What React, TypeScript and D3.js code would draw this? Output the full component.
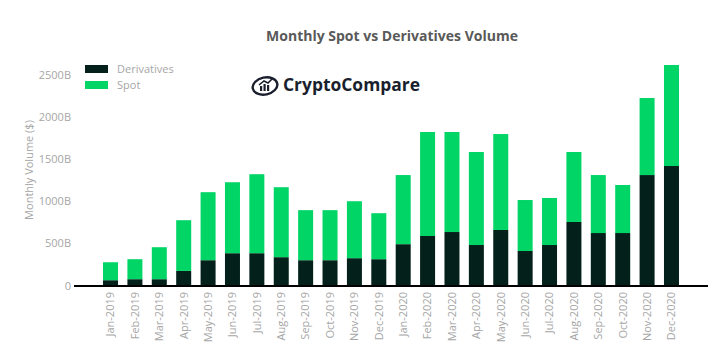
import React from "react";
import * as d3 from "d3";

const months = [
  "Jan-2019","Feb-2019","Mar-2019","Apr-2019","May-2019","Jun-2019","Jul-2019","Aug-2019","Sep-2019","Oct-2019","Nov-2019","Dec-2019",
  "Jan-2020","Feb-2020","Mar-2020","Apr-2020","May-2020","Jun-2020","Jul-2020","Aug-2020","Sep-2020","Oct-2020","Nov-2020","Dec-2020",
];
const derivatives = [65, 77, 77, 175, 302, 385, 385, 338, 302, 302, 326, 314, 492, 589, 636, 482, 660, 411, 482, 755, 624, 624, 1311, 1418];
const spot = [213, 237, 379, 601, 806, 841, 936, 829, 593, 593, 675, 545, 819, 1232, 1185, 1102, 1137, 604, 557, 829, 687, 569, 913, 1197];
const yTicks = [0, 500, 1000, 1500, 2000, 2500];

const W = 725, H = 351;
const GREEN = "#00d566";
const DARK = "#03201b";
const GRAY = "#a6a6a6";

export default function App() {
  const x = d3.scaleBand<string>().domain(months).range([74, 708]).paddingInner(0.385).paddingOuter(1.19);
  const y = d3.scaleLinear().domain([0, 2500]).range([285.7, 74.7]);
  const rows = months.map((m, i) => ({ m, d: derivatives[i], s: spot[i] }));
  const stack = d3.stack<any>().keys(["d", "s"])(rows);
  const colors = [DARK, GREEN];
  const font = "'Open Sans', 'Noto Sans', sans-serif";

  return (
    <svg width={W} height={H} style={{ position: "absolute", left: 0, top: 0, background: "#fff" }} fontFamily={font}>
      <text x={392} y={41} textAnchor="middle" fontSize={14} fontWeight="bold" fill="#595959">
        Monthly Spot vs Derivatives Volume
      </text>
      {/* legend */}
      <rect x={85} y={65} width={23} height={8} fill={DARK} />
      <rect x={85} y={81} width={23} height={8} fill={GREEN} />
      <text x={117} y={73} fontSize={11} fill={GRAY}>Derivatives</text>
      <text x={117} y={89} fontSize={11} fill={GRAY}>Spot</text>
      {/* logo */}
      <g transform="translate(265,86)">
        <ellipse cx={0} cy={0} rx={12.5} ry={8.5} fill="none" stroke="#1a1f2e" strokeWidth={2.4} transform="rotate(-12)" />
        <rect x={-5} y={0} width={2.2} height={5} fill="#1a1f2e" />
        <rect x={-1.5} y={-2} width={2.2} height={7} fill="#1a1f2e" />
        <rect x={2} y={-1} width={2.2} height={6} fill="#1a1f2e" />
        <path d="M-6,-1 L-1,-5 L3,-3 L8,-8" fill="none" stroke="#1a1f2e" strokeWidth={1.6} />
      </g>
      <text x={283} y={91} fontSize={18} fontWeight="bold" fill="#1a1f2e" textLength={137} lengthAdjust="spacingAndGlyphs">CryptoCompare</text>
      {/* y axis */}
      {yTicks.map((t) => (
        <text key={t} x={71} y={y(t)} dy="0.35em" textAnchor="end" fontSize={11} fill={GRAY}>
          {t === 0 ? "0" : `${t}B`}
        </text>
      ))}
      <text transform={`translate(33,170) rotate(-90)`} textAnchor="middle" fontSize={11} fill={GRAY}>
        Monthly Volume ($)
      </text>
      {/* bars */}
      {stack.map((layer, li) => (
        <g key={li} fill={colors[li]}>
          {layer.map((p, i) => (
            <rect key={i} x={x(months[i])} width={x.bandwidth()} y={y(p[1])} height={y(p[0]) - y(p[1])} />
          ))}
        </g>
      ))}
      <line x1={74} x2={708} y1={286} y2={286} stroke="#000" strokeWidth={2} />
      {months.map((m) => (
        <text key={m} transform={`translate(${(x(m) as number) + x.bandwidth() / 2},292) rotate(-90)`} textAnchor="end" dy="0.35em" fontSize={11} fill={GRAY}>
          {m}
        </text>
      ))}
    </svg>
  );
}
